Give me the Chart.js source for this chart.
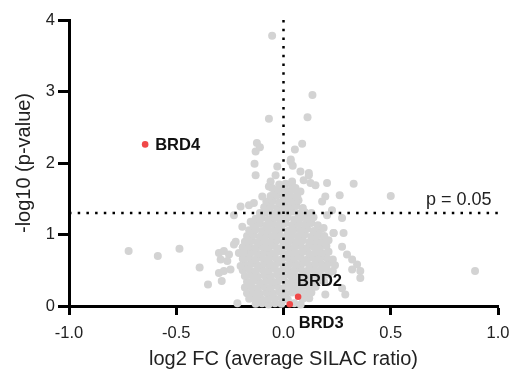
<!DOCTYPE html>
<html>
<head>
<meta charset="utf-8">
<script src="https://cdn.jsdelivr.net/npm/chart.js@4.4.0/dist/chart.umd.min.js"></script>
<style>
  html, body { margin: 0; padding: 0; background: #fff; }
</style>
</head>
<body>
<canvas id="volcano" width="511" height="374"></canvas>
<script>
// axis ticks
const xTicks = [-1.0, -0.5, 0.0, 0.5, 1.0];
const yTicks = [0, 1, 2, 3, 4];
const pThreshold = 1.301; // -log10(0.05)

// highlighted proteins
const hitNames = ['BRD4', 'BRD2', 'BRD3'];
const hitFC = [-0.645, 0.068, 0.029];
const hitLogP = [2.26, 0.13, 0.025];

// outliers (log2 FC, -log10 p)
const outlierProteins = [
  [-0.053, 3.78], [0.135, 2.95], [0.112, 2.64], [-0.068, 2.62],
  [-0.124, 2.28], [-0.110, 2.22], [-0.130, 2.16], [0.087, 2.27], [0.053, 2.19],
  [0.034, 2.05], [0.043, 1.96], [0.033, 2.02], [-0.135, 1.99], [-0.029, 1.95],
  [-0.130, 1.83], [-0.037, 1.83], [0.079, 1.88], [0.094, 1.76], [0.118, 1.83],
  [0.118, 1.86], [0.126, 1.72], [-0.060, 1.74], [-0.068, 1.67], [-0.053, 1.65],
  [0.149, 1.69], [0.203, 1.72], [0.195, 1.53], [0.262, 1.55], [0.327, 1.71],
  [0.500, 1.54], [-0.099, 1.53], [0.064, 1.53], [0.079, 1.60], [0.040, 1.74],
  [0.056, 1.65], [-0.138, 1.44], [-0.161, 1.41], [-0.200, 1.39], [-0.231, 1.27],
  [-0.192, 1.11], [-0.153, 1.18], [0.180, 1.46], [0.273, 1.23], [0.187, 1.09],
  [0.226, 1.34], [0.203, 1.27], [0.233, 1.02],
  [-0.722, 0.77], [-0.586, 0.70], [-0.485, 0.80], [-0.391, 0.54], [-0.352, 0.30],
  [-0.288, 0.35], [-0.301, 0.74], [-0.278, 0.77], [-0.254, 0.72], [-0.293, 0.65],
  [-0.262, 0.63], [-0.223, 0.90], [-0.231, 0.86], [-0.208, 0.74], [-0.278, 0.49],
  [-0.247, 0.51], [-0.200, 0.56], [-0.215, 0.04], [-0.301, 0.46],
  [0.280, 1.02], [0.296, 0.72], [0.320, 0.65], [0.343, 0.58], [0.320, 0.51],
  [0.358, 0.49], [0.358, 0.39], [0.273, 0.25], [0.288, 0.16], [0.195, 0.16],
  [0.273, 0.83], [0.234, 1.02], [0.893, 0.49]
];

// dense core of the cloud (log2 FC, -log10 p)
const coreProteins = [
  [-0.13, 0.03], [-0.10, 0.04], [-0.07, 0.02], [-0.04, 0.04], [-0.01, 0.03], [0.05, 0.04], [0.08, 0.02],
  [-0.16, 0.10], [-0.13, 0.11], [-0.10, 0.09], [-0.07, 0.11], [-0.04, 0.10], [-0.01, 0.12], [0.02, 0.09], [0.09, 0.10], [0.12, 0.11],
  [-0.17, 0.18], [-0.14, 0.19], [-0.11, 0.17], [-0.08, 0.19], [-0.05, 0.18], [-0.02, 0.20], [0.01, 0.17], [0.04, 0.19], [0.07, 0.21], [0.10, 0.18], [0.13, 0.19],
  [-0.18, 0.26], [-0.15, 0.27], [-0.12, 0.25], [-0.09, 0.27], [-0.06, 0.26], [-0.03, 0.28], [0.00, 0.25], [0.03, 0.27], [0.06, 0.26], [0.09, 0.28], [0.12, 0.25], [0.15, 0.27],
  [-0.17, 0.34], [-0.14, 0.35], [-0.11, 0.33], [-0.08, 0.35], [-0.05, 0.34], [-0.02, 0.36], [0.01, 0.33], [0.04, 0.35], [0.07, 0.34], [0.10, 0.36], [0.13, 0.33], [0.16, 0.35], [0.19, 0.34],
  [-0.18, 0.42], [-0.15, 0.43], [-0.12, 0.41], [-0.09, 0.43], [-0.06, 0.42], [-0.03, 0.44], [0.00, 0.41], [0.03, 0.43], [0.06, 0.42], [0.09, 0.44], [0.12, 0.41], [0.15, 0.43], [0.18, 0.42], [0.21, 0.44],
  [-0.19, 0.50], [-0.16, 0.51], [-0.13, 0.49], [-0.10, 0.51], [-0.07, 0.50], [-0.04, 0.52], [-0.01, 0.49], [0.02, 0.51], [0.05, 0.50], [0.08, 0.52], [0.11, 0.49], [0.14, 0.51], [0.17, 0.50], [0.20, 0.52], [0.23, 0.49],
  [-0.18, 0.58], [-0.15, 0.59], [-0.12, 0.57], [-0.09, 0.59], [-0.06, 0.58], [-0.03, 0.60], [0.00, 0.57], [0.03, 0.59], [0.06, 0.58], [0.09, 0.60], [0.12, 0.57], [0.15, 0.59], [0.18, 0.58], [0.21, 0.60], [0.24, 0.57],
  [-0.19, 0.66], [-0.16, 0.67], [-0.13, 0.65], [-0.10, 0.67], [-0.07, 0.66], [-0.04, 0.68], [-0.01, 0.65], [0.02, 0.67], [0.05, 0.66], [0.08, 0.68], [0.11, 0.65], [0.14, 0.67], [0.17, 0.66], [0.20, 0.68], [0.23, 0.65],
  [-0.18, 0.74], [-0.15, 0.75], [-0.12, 0.73], [-0.09, 0.75], [-0.06, 0.74], [-0.03, 0.76], [0.00, 0.73], [0.03, 0.75], [0.06, 0.74], [0.09, 0.76], [0.12, 0.73], [0.15, 0.75], [0.18, 0.74], [0.21, 0.76],
  [-0.19, 0.82], [-0.16, 0.83], [-0.13, 0.81], [-0.10, 0.83], [-0.07, 0.82], [-0.04, 0.84], [-0.01, 0.81], [0.02, 0.83], [0.05, 0.82], [0.08, 0.84], [0.11, 0.81], [0.14, 0.83], [0.17, 0.82], [0.20, 0.84],
  [-0.18, 0.90], [-0.15, 0.91], [-0.12, 0.89], [-0.09, 0.91], [-0.06, 0.90], [-0.03, 0.92], [0.00, 0.89], [0.03, 0.91], [0.06, 0.90], [0.09, 0.92], [0.12, 0.89], [0.15, 0.91], [0.18, 0.90], [0.21, 0.92],
  [-0.17, 0.98], [-0.14, 0.99], [-0.11, 0.97], [-0.08, 0.99], [-0.05, 0.98], [-0.02, 1.00], [0.01, 0.97], [0.04, 0.99], [0.07, 0.98], [0.10, 1.00], [0.13, 0.97], [0.16, 0.99], [0.19, 0.98],
  [-0.16, 1.06], [-0.13, 1.07], [-0.10, 1.05], [-0.07, 1.07], [-0.04, 1.06], [-0.01, 1.08], [0.02, 1.05], [0.05, 1.07], [0.08, 1.06], [0.11, 1.08], [0.14, 1.05], [0.17, 1.07],
  [-0.14, 1.14], [-0.11, 1.15], [-0.08, 1.13], [-0.05, 1.15], [-0.02, 1.14], [0.01, 1.16], [0.04, 1.13], [0.07, 1.15], [0.10, 1.14], [0.13, 1.16], [0.16, 1.13],
  [-0.13, 1.22], [-0.10, 1.23], [-0.07, 1.21], [-0.04, 1.23], [-0.01, 1.22], [0.02, 1.24], [0.05, 1.21], [0.08, 1.23], [0.11, 1.22], [0.14, 1.24],
  [-0.11, 1.30], [-0.08, 1.31], [-0.05, 1.29], [-0.02, 1.31], [0.01, 1.30], [0.04, 1.32], [0.07, 1.29], [0.10, 1.31], [0.13, 1.30],
  [-0.09, 1.38], [-0.06, 1.39], [-0.03, 1.37], [0.00, 1.39], [0.03, 1.38], [0.06, 1.40], [0.09, 1.37],
  [-0.08, 1.46], [-0.05, 1.47], [-0.02, 1.45], [0.01, 1.47], [0.04, 1.46], [0.07, 1.48],
  [-0.06, 1.54], [-0.03, 1.55], [0.00, 1.53], [0.03, 1.55], [0.06, 1.54],
  [-0.04, 1.62], [-0.01, 1.63], [0.02, 1.61], [0.05, 1.63],
  [-0.02, 1.70], [0.01, 1.71], [0.04, 1.69]
];

const fontFamily = '"Liberation Sans", Arial, Helvetica, sans-serif';

const toPoints = list => list.map(p => ({ x: p[0], y: p[1] }));

// text labels next to the highlighted proteins and the threshold line
const labelPlugin = {
  id: 'volcanoLabels',
  afterDatasetsDraw(chart) {
    const { ctx, scales: { x, y } } = chart;
    const offsets = [[10, 1], [-1, -15], [9, 19]];
    ctx.save();
    ctx.fillStyle = '#111';
    ctx.textBaseline = 'middle';
    ctx.textAlign = 'left';
    ctx.font = 'bold 16.5px ' + fontFamily;
    hitNames.forEach((name, i) => {
      ctx.fillText(name,
        x.getPixelForValue(hitFC[i]) + offsets[i][0],
        y.getPixelForValue(hitLogP[i]) + offsets[i][1]);
    });
    ctx.fillStyle = '#222';
    ctx.font = '18px ' + fontFamily;
    ctx.textAlign = 'right';
    ctx.fillText('p = 0.05', x.getPixelForValue(0.97), y.getPixelForValue(pThreshold) - 13);
    ctx.restore();
  }
};

new Chart(document.getElementById('volcano'), {
  type: 'scatter',
  data: {
    datasets: [
      {
        label: 'hits',
        data: hitNames.map((n, i) => ({ x: hitFC[i], y: hitLogP[i] })),
        backgroundColor: '#f04848',
        borderWidth: 0,
        pointRadius: 3.3,
        order: 1
      },
      {
        type: 'line',
        label: 'p threshold',
        data: [{ x: -1, y: pThreshold }, { x: 1, y: pThreshold }],
        borderColor: '#000',
        borderWidth: 2.5,
        borderDash: [2.5, 6.2],
        pointRadius: 0,
        order: 2
      },
      {
        type: 'line',
        label: 'zero',
        data: [{ x: 0, y: 4 }, { x: 0, y: 0 }],
        borderColor: '#000',
        borderWidth: 2.5,
        borderDash: [2.5, 6.2],
        pointRadius: 0,
        order: 2
      },
      {
        label: 'outliers',
        data: toPoints(outlierProteins),
        backgroundColor: '#d3d3d3',
        borderWidth: 0,
        pointRadius: 4,
        order: 3
      },
      {
        label: 'core',
        data: toPoints(coreProteins),
        backgroundColor: '#d3d3d3',
        borderWidth: 0,
        pointRadius: 4,
        order: 3
      }
    ]
  },
  options: {
    responsive: false,
    animation: false,
    clip: false,
    layout: { padding: { top: 20, right: 13, left: 0, bottom: 0 } },
    plugins: {
      legend: { display: false },
      tooltip: { enabled: false }
    },
    scales: {
      x: {
        type: 'linear',
        min: -1,
        max: 1,
        afterBuildTicks: s => { s.ticks = xTicks.map(v => ({ value: v })); },
        afterFit: s => { s.height = 68; s.paddingLeft = 0; s.paddingRight = 0; },
        border: { display: true, color: '#000', width: 3 },
        grid: { drawOnChartArea: false, drawTicks: true, tickLength: 9, tickColor: '#000', tickWidth: 3 },
        ticks: {
          color: '#222',
          padding: 9,
          maxRotation: 0,
          font: { family: fontFamily, size: 16.5 },
          callback: v => v.toFixed(1)
        },
        title: {
          display: true,
          text: 'log2 FC (average SILAC ratio)',
          color: '#222',
          font: { family: fontFamily, size: 20 },
          padding: { top: 3, bottom: 3 }
        }
      },
      y: {
        type: 'linear',
        min: 0,
        max: 4,
        afterBuildTicks: s => { s.ticks = yTicks.map(v => ({ value: v })); },
        afterFit: s => { s.width = 69; s.paddingTop = 0; s.paddingBottom = 0; },
        border: { display: true, color: '#000', width: 3 },
        grid: { drawOnChartArea: false, drawTicks: true, tickLength: 11, tickColor: '#000', tickWidth: 3 },
        ticks: {
          color: '#222',
          padding: 3,
          font: { family: fontFamily, size: 16.5 }
        },
        title: {
          display: true,
          text: '-log10 (p-value)',
          color: '#222',
          font: { family: fontFamily, size: 20 },
          padding: { top: 12, bottom: 12 }
        }
      }
    }
  },
  plugins: [labelPlugin]
});
</script>
</body>
</html>
